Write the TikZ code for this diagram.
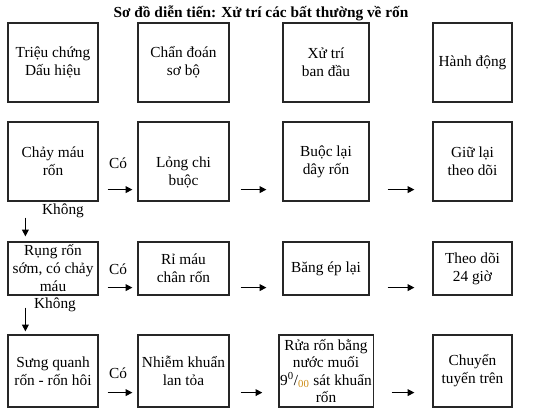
\documentclass[tikz,border=0pt]{standalone}
\usepackage{fontspec}
\setmainfont{Liberation Serif}
\usetikzlibrary{arrows.meta,calc}
\definecolor{permille}{RGB}{205,140,20}
\begin{document}
\begin{tikzpicture}[x=0.75pt,y=-0.75pt,
  box/.style={draw=black!85,line width=0.9pt,rectangle,align=center,inner sep=1pt,
    font=\fontsize{11.5}{13.5}\selectfont},
  txt/.style={align=center,inner sep=0pt,font=\fontsize{11.5}{13.5}\selectfont},
  arr/.style={line width=0.9pt,-{Triangle[length=5pt,width=5pt]}}]
\useasboundingbox (0,0) rectangle (533,414);
\node[font=\bfseries\fontsize{11.5}{13.5}\selectfont,inner sep=0pt] (title) at (261,13) {Sơ đồ diễn tiến: Xử trí các bất thường về rốn};
% row 1
\node[box,minimum width=90*0.75pt,minimum height=79*0.75pt] (b11) at (53,62.5) {Triệu chứng\\Dấu hiệu};
\node[box,minimum width=91*0.75pt,minimum height=79*0.75pt] (b12) at (183.5,62.5) {Chẩn đoán\\sơ bộ};
\node[box,minimum width=86*0.75pt,minimum height=79*0.75pt] (b13) at (326,62.5) {Xử trí\\ban đầu};
\node[box,minimum width=79*0.75pt,minimum height=79*0.75pt] (b14) at (472.5,62.5) {Hành động};
% row 2
\node[box,minimum width=90*0.75pt,minimum height=79*0.75pt] (b21) at (53,161.5) {Chảy máu\\rốn};
\node[box,minimum width=91*0.75pt,minimum height=79*0.75pt] (b22) at (183.5,161.5) {};
\node[txt] (b22t) at (183.5,172) {Lỏng chi\\buộc};
\node[box,minimum width=86*0.75pt,minimum height=79*0.75pt] (b23) at (326,161.5) {Buộc lại\\dây rốn};
\node[box,minimum width=79*0.75pt,minimum height=79*0.75pt] (b24) at (472.5,161.5) {Giữ lại\\theo dõi};
% row 3
\node[box,minimum width=90*0.75pt,minimum height=53*0.75pt] (b31) at (53,268.5) {Rụng rốn\\sớm, có chảy\\máu};
\node[box,minimum width=91*0.75pt,minimum height=53*0.75pt] (b32) at (183.5,268.5) {Rỉ máu\\chân rốn};
\node[box,minimum width=86*0.75pt,minimum height=53*0.75pt] (b33) at (326,268.5) {Băng ép lại};
\node[box,minimum width=79*0.75pt,minimum height=53*0.75pt] (b34) at (472.5,268.5) {Theo dõi\\24 giờ};
% row 4
\node[box,minimum width=90*0.75pt,minimum height=72*0.75pt] (b41) at (53,371) {Sưng quanh\\rốn - rốn hôi};
\node[box,minimum width=91*0.75pt,minimum height=72*0.75pt] (b42) at (183.5,371) {Nhiễm khuẩn\\lan tỏa};
\node[box,minimum width=86*0.75pt,minimum height=72*0.75pt,font=\fontsize{11.5}{13.1}\selectfont] (b43) at (326,371) {Rửa rốn bằng\\nước muối\\9\textsuperscript{0}/\textsubscript{\textcolor{permille}{00}} sát khuẩn\\rốn};
\node[box,minimum width=79*0.75pt,minimum height=72*0.75pt] (b44) at (472.5,371) {Chuyển\\tuyến trên};
% horizontal arrows
\foreach \r/\d in {2/12,3/8,4/15}{
  \draw[arr,shorten <=6.75pt,shorten >=3.75pt] ($(b\r1.south east)+(0,-\d)$) -- ($(b\r2.south west)+(0,-\d)$);
  \draw[arr,shorten <=8.25pt,shorten >=12pt] ($(b\r2.south east)+(0,-\d)$) -- ($(b\r3.south west)+(0,-\d)$);
  \draw[arr,shorten <=13.5pt,shorten >=13.5pt] ($(b\r3.south east)+(0,-\d)$) -- ($(b\r4.south west)+(0,-\d)$);
}
% labels Có
\node[txt] (co2) at (118,163) {Có};
\node[txt] (co3) at (118,269) {Có};
\node[txt] (co4) at (118,373) {Có};
% vertical arrows
\draw[arr,shorten <=12pt,shorten >=3.75pt] ($(b21.south west)+(18,0)$) -- ($(b31.north west)+(18,0)$);
\draw[arr,shorten <=9pt,shorten >=2.25pt] ($(b31.south west)+(18,0)$) -- ($(b41.north west)+(18,0)$);
\node[txt] (k1) at (63,211) {Không};
\node[txt] (k2) at (55,305) {Không};
\end{tikzpicture}
\end{document}
